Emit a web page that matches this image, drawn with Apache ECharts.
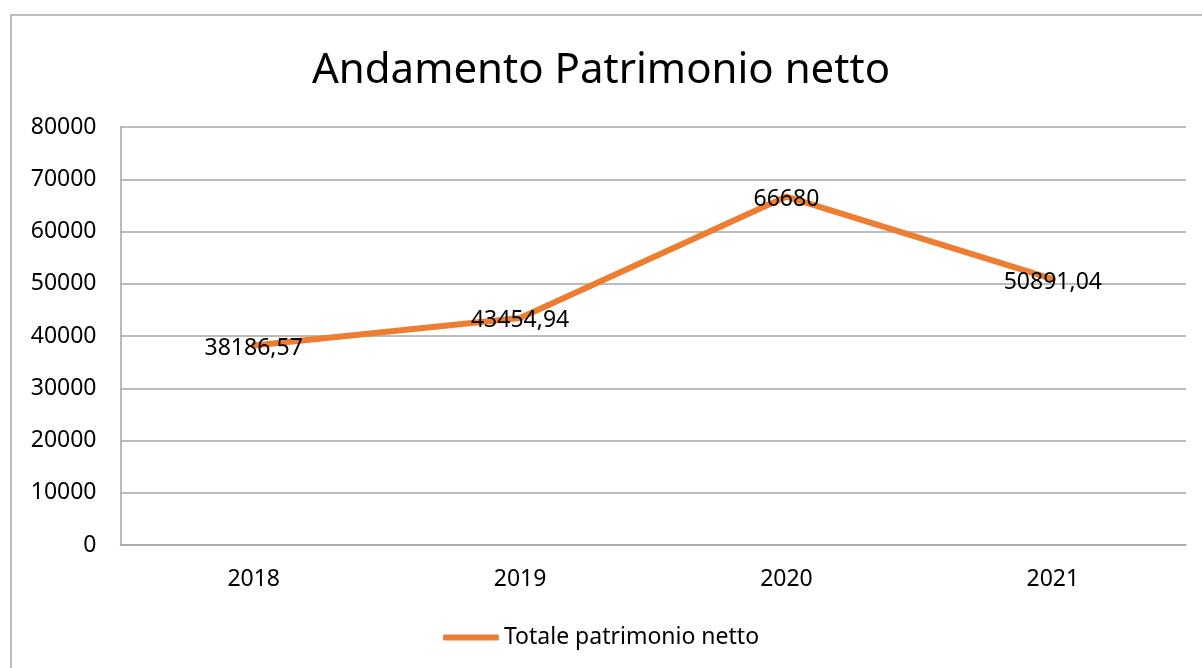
<!DOCTYPE html>
<html>
<head>
<meta charset="utf-8">
<script src="https://cdn.jsdelivr.net/npm/echarts@6/dist/echarts.min.js"></script>
<style>
  html, body { margin: 0; padding: 0; background: #fff; }
  #chart { width: 1202px; height: 668px; }
</style>
</head>
<body>
<div id="chart"></div>
<script>
const years = ['2018', '2019', '2020', '2021'];
const patrimonio = [38186.57, 43454.94, 66680, 50891.04];
const yTicks = { min: 0, max: 80000, interval: 10000 };

const lineColor = '#ED7D31';
const gridColor = '#A6A6A6';
const fontFamily = '"Noto Sans", "Open Sans", sans-serif';

const myChart = echarts.init(document.getElementById('chart'));
const option = {
    animation: false,
    textStyle: { fontFamily: fontFamily, color: '#000' },
    graphic: [{
        type: 'rect',
        shape: { x: 11, y: 15, width: 1220, height: 700 },
        style: { fill: 'none', stroke: '#BDBDBD', lineWidth: 2 },
        silent: true
    }],
    title: {
        text: 'Andamento Patrimonio netto',
        left: 'center',
        top: 45,
        textStyle: { fontSize: 42, fontWeight: 'normal', color: '#000', fontFamily: fontFamily }
    },
    legend: {
        bottom: 14,
        left: 'center',
        itemWidth: 56,
        itemHeight: 6,
        itemGap: 4,
        icon: 'roundRect',
        textStyle: { fontSize: 23, color: '#000', fontFamily: fontFamily },
        data: ['Totale patrimonio netto']
    },
    grid: {
        left: 120.5,
        right: 16,
        top: 127,
        bottom: 123
    },
    xAxis: {
        type: 'category',
        data: years,
        axisLine: { lineStyle: { color: gridColor, width: 1.5 } },
        axisTick: { show: false },
        axisLabel: { fontSize: 23, color: '#000', margin: 23 }
    },
    yAxis: {
        type: 'value',
        min: yTicks.min,
        max: yTicks.max,
        interval: yTicks.interval,
        axisLine: { show: true, lineStyle: { color: gridColor, width: 1.5 } },
        axisTick: { show: false },
        axisLabel: {
            fontSize: 23,
            color: '#000',
            margin: 24,
            formatter: function (v) { return String(v); }
        },
        splitLine: { lineStyle: { color: gridColor, width: 1.5 } }
    },
    series: [{
        name: 'Totale patrimonio netto',
        type: 'line',
        data: patrimonio,
        symbol: 'circle',
        symbolSize: 1,
        lineStyle: { color: lineColor, width: 6, cap: 'round', join: 'round' },
        itemStyle: { color: lineColor },
        label: {
            show: true,
            position: 'inside',
            offset: [0, 3],
            fontSize: 23,
            color: '#000',
            formatter: function (p) {
                return String(p.value).replace('.', ',');
            }
        }
    }]
};
myChart.setOption(option);
</script>
</body>
</html>
